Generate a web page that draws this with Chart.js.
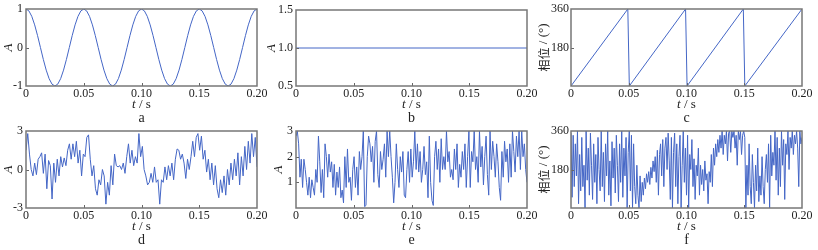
<!DOCTYPE html>
<html>
<head>
<meta charset="utf-8">
<script src="https://cdn.jsdelivr.net/npm/chart.js@4"></script>
<style>
  body { margin: 0; background: #fff; }
  #wrap { position: relative; width: 818px; height: 250px; overflow: hidden; }
  canvas { position: absolute; }
</style>
</head>
<body>
<div id="wrap">
  <canvas id="pa" width="272" height="125" style="left:0;top:0"></canvas>
  <canvas id="pb" width="280" height="125" style="left:262px;top:0"></canvas>
  <canvas id="pc" width="280" height="125" style="left:538px;top:0"></canvas>
  <canvas id="pd" width="272" height="125" style="left:0;top:125px"></canvas>
  <canvas id="pe" width="280" height="125" style="left:262px;top:125px"></canvas>
  <canvas id="pf" width="280" height="125" style="left:538px;top:125px"></canvas>
</div>
<script>
// six panels: amplitude / phase of a clean signal (a-c) and a noisy one (d-f)
const timeTicks = [0, 0.05, 0.1, 0.15, 0.2];
const tMax = 0.2;

// a: clean amplitude, sampled every 0.0025 s
const ampA = [
  1, 0.951, 0.809, 0.588, 0.309, 0, -0.309, -0.588, -0.809, -0.951, -1, -0.951, -0.809, -0.588, -0.309, 0, 0.309, 0.588, 0.809, 0.951,
  1, 0.951, 0.809, 0.588, 0.309, 0, -0.309, -0.588, -0.809, -0.951, -1, -0.951, -0.809, -0.588, -0.309, 0, 0.309, 0.588, 0.809, 0.951,
  1, 0.951, 0.809, 0.588, 0.309, 0, -0.309, -0.588, -0.809, -0.951, -1, -0.951, -0.809, -0.588, -0.309, 0, 0.309, 0.588, 0.809, 0.951,
  1, 0.951, 0.809, 0.588, 0.309, 0, -0.309, -0.588, -0.809, -0.951, -1, -0.951, -0.809, -0.588, -0.309, 0, 0.309, 0.588, 0.809, 0.951,
  1,
];

// b: envelope
const timeB = [0, 0.2];
const ampB = [1, 1];

// c: phase sawtooth
const timeC = [0, 0.0492, 0.0505, 0.0992, 0.1005, 0.1492, 0.1505, 0.2];
const phaseC = [0, 360, 0, 360, 0, 360, 0, 360];

// d: noisy amplitude
const ampD = [
  1.5, 2.8, 1.2, 0, -0.5, 0.5, -0.4, 0.8, 1.0, 1.3, -0.3, 1.2, -1.5, 0.7, 0.3, -2.3, 0.5, -1, 0.8, -0.5,
  1.0, 0.2, 0.9, 0.3, 1.5, 2.0, 0.8, 2.0, 1.0, 2.2, 0.5, 1.5, -0.5, 1.2, 1.0, 2.5, 2.7, 0.8, -0.5, 0.3,
  -1.5, -2.0, -0.8, -1.2, 0, -0.5, -2.7, -1.0, -2.0, 0.3, -1.2, 1.2, 0.3, 0.2, 0.3, 0.0, 0.5, -0.3, 1.0, 2.0,
  0.5, 1.5, 0.3, 1.0, 0.5, 2.8, 1.0, 1.8, 0.0, -0.5, -1.2, -1.0, -0.3, -1.0, 0.2, -1.0, -0.8, -2.7, -0.8, -1.0,
  0.2, -0.8, 0.3, -0.5, 0.5, -0.8, 0.8, 1.6, 1.5, 0.8, 1.2, 0.5, -0.7, 0.8, 0.0, 1.0, 2.2, 1.0, 2.5, 2.8,
  1.5, 2.6, 0.8, 1.5, -0.2, 0.8, -0.8, 0.5, -1.2, 0.3, -1.5, -2.2, -0.8, -1.8, -0.5, -2.0, 0.0, -1.2, 0.5, -0.8,
  0.8, -0.5, 1.3, -1.2, 1.0, -0.5, 1.8, 0.0, 2.2, 0.5, 2.8, 1.0, 2.5, 0.2,
];

// e: noisy envelope
const ampE = [
  2.8, 3.0, 2.5, 1.2, 1.9, 0.8, 1.9, 1.5, 1.0, 0.5, 1.2, 0.4, 1.1, 0.8, 0.5, 1.5, 1.0, 2.8, 1.8, 0.6,
  1.5, 0.4, 2.5, 2.0, 1.2, 2.1, 1.4, 1.8, 0.8, 1.7, 0.5, 1.4, 0.8, 1.6, 0.4, 0.7, 0.2, 2.0, 0.8, 2.3,
  1.0, 1.2, 0.3, 1.5, 2.0, 0.8, 1.6, 0.5, 2.2, 1.5, 2.0, 3.0, 0.05, 0.1, 2.0, 2.8, 2.5, 1.8, 2.4, 1.0,
  2.6, 3.0, 1.3, 0.8, 2.2, 1.5, 1.9, 2.5, 1.2, 3.0, 2.0, 3.0, 2.0, 1.2, 0.2, 1.0, 2.5, 1.5, 0.8, 2.0,
  1.4, 2.2, 0.5, 0.4, 1.5, 2.2, 1.0, 2.3, 1.2, 1.8, 3.0, 1.5, 2.5, 1.4, 2.2, 1.0, 1.5, 2.4, 1.3, 1.8,
  0.4, 2.8, 1.0, 0.3, 0.1, 2.0, 2.6, 1.5, 2.3, 1.0, 2.7, 1.5, 2.0, 1.5, 3.0, 1.8, 2.2, 1.2, 1.5, 1.1,
  2.3, 1.5, 2.5, 0.8, 1.7, 1.2, 2.2, 1.5, 2.5, 0.8, 2.0, 3.0, 0.8, 2.2, 1.8, 3.0, 1.5, 2.0, 1.0, 3.0,
  1.6, 2.4, 0.9, 2.0, 2.8, 1.3, 0.5, 3.0, 1.5, 2.6, 2.0, 1.2, 2.5, 1.8, 0.8, 0.3, 2.2, 1.2, 2.6, 1.8,
  2.3, 1.0, 2.5, 1.2, 3.0, 2.2, 1.4, 2.8, 2.0, 3.0, 1.5, 3.0, 2.0, 2.5, 1.5, 1.0,
];

// f: noisy phase
const phaseF = [
  350, 50, 340, 100, 300, 150, 360, 20, 250, 80, 330, 100, 200, 0, 360, 130, 280, 60, 350, 200,
  40, 300, 120, 250, 20, 330, 180, 80, 360, 100, 260, 30, 300, 150, 360, 60, 220, 10, 310, 140,
  280, 70, 340, 200, 30, 300, 120, 360, 50, 280, 150, 330, 0, 260, 360, 80, 340, 0, 300, 100,
  20, 200, 60, 0, 150, 30, 120, 60, 140, 90, 160, 120, 170, 110, 190, 140, 220, 170, 240, 120,
  270, 60, 250, 300, 150, 320, 100, 280, 330, 180, 350, 220, 40, 330, 0, 260, 350, 100, 300, 20,
  240, 340, 0, 200, 360, 120, 280, 60, 340, 0, 250, 180, 320, 100, 230, 40, 200, 150, 280, 60,
  200, 110, 180, 80, 220, 130, 160, 20, 170, 120, 250, 100, 280, 200, 300, 240, 320, 260, 340, 280,
  360, 250, 340, 300, 360, 220, 350, 360, 260, 360, 330, 360, 280, 340, 200, 360, 320, 360, 250, 340,
  360, 330, 0, 200, 60, 300, 100, 20, 250, 120, 0, 200, 80, 280, 30, 150, 60, 240, 100, 20,
  180, 250, 120, 300, 0, 340, 150, 260, 200, 360, 130, 330, 60, 280, 100, 360, 200, 320, 40, 300,
  250, 360, 180, 330, 280, 360, 250, 340, 300, 360, 280, 100, 360, 300, 330,
];

const LINE = '#4466c6';
const SERIF = '"Liberation Serif", "Times New Roman", serif';
const CJK = '"Noto Sans CJK SC", sans-serif';

function uniform(vals) {
  const dt = tMax / (vals.length - 1);
  return vals.map((v, i) => ({ x: i * dt, y: v }));
}
function paired(ts, vals) {
  return ts.map((t, i) => ({ x: t, y: vals[i] }));
}

function drawRun(ctx, parts, x, y) {
  // parts drawn one after another, centred on x
  let w = 0;
  parts.forEach(p => { ctx.font = p.font; w += ctx.measureText(p.text).width; });
  let cx = x - w / 2;
  parts.forEach(p => {
    ctx.font = p.font;
    ctx.fillText(p.text, cx, y);
    cx += ctx.measureText(p.text).width;
  });
}

const framePlugin = {
  id: 'frame',
  afterDraw(chart, args, o) {
    const { ctx, chartArea: a, scales: { x, y } } = chart;
    ctx.save();
    ctx.strokeStyle = '#666';
    ctx.lineWidth = 1;
    ctx.beginPath();
    timeTicks.forEach(v => {
      if (v <= x.min || v >= x.max) return;
      const px = Math.round(x.getPixelForValue(v)) + 0.5;
      ctx.moveTo(px, a.bottom);
      ctx.lineTo(px, a.bottom - 3);
    });
    o.yTicks.forEach(v => {
      if (v <= y.min || v >= y.max) return;
      const py = Math.round(y.getPixelForValue(v)) + 0.5;
      ctx.moveTo(a.left, py);
      ctx.lineTo(a.left + 3, py);
    });
    ctx.stroke();

    ctx.strokeStyle = '#777';
    ctx.lineWidth = 1.5;
    ctx.strokeRect(a.left, a.top, a.right - a.left, a.bottom - a.top);

    ctx.fillStyle = '#222';
    ctx.textBaseline = 'middle';
    ctx.textAlign = 'left';
    const mid = (a.left + a.right) / 2;
    drawRun(ctx, [
      { text: 't', font: 'italic 13px ' + SERIF },
      { text: ' / s', font: '13px ' + SERIF },
    ], mid, a.bottom + 19);
    drawRun(ctx, [{ text: o.letter, font: '14px ' + SERIF }], mid, a.bottom + 32);

    ctx.translate(o.yTitleX, (a.top + a.bottom) / 2);
    ctx.rotate(-Math.PI / 2);
    if (o.phase) {
      drawRun(ctx, [
        { text: '相位', font: '12px ' + CJK },
        { text: ' / (°)', font: '13px ' + SERIF },
      ], 0, 0);
    } else {
      drawRun(ctx, [{ text: 'A', font: 'italic 13px ' + SERIF }], 0, 0);
    }
    ctx.restore();
  },
};

function makePanel(id, points, p) {
  const ctx = document.getElementById(id).getContext('2d');
  return new Chart(ctx, {
    type: 'line',
    data: {
      datasets: [{
        data: points,
        borderColor: LINE,
        borderWidth: 1,
        pointRadius: 0,
        tension: 0,
      }],
    },
    plugins: [framePlugin],
    options: {
      responsive: false,
      animation: false,
      events: [],
      layout: { padding: { top: p.top, right: p.right, bottom: 0, left: 0 } },
      plugins: {
        legend: { display: false },
        tooltip: { enabled: false },
        frame: { yTicks: p.yTicks, letter: p.letter, yTitleX: p.yTitleX, phase: p.phase },
      },
      scales: {
        x: {
          type: 'linear',
          min: 0,
          max: tMax,
          grid: { display: false, drawTicks: false },
          border: { display: false },
          afterBuildTicks: s => { s.ticks = timeTicks.map(v => ({ value: v })); },
          ticks: {
            autoSkip: false,
            maxRotation: 0,
            padding: 2,
            color: '#222',
            font: { family: SERIF, size: 12, lineHeight: 1 },
            callback: v => (v === 0 ? '0' : v.toFixed(2)),
          },
          afterFit: s => { s.height = p.xHeight; s.paddingLeft = 0; s.paddingRight = 0; },
        },
        y: {
          min: p.yMin,
          max: p.yMax,
          grid: { display: false, drawTicks: false },
          border: { display: false },
          afterBuildTicks: s => { s.ticks = p.yTicks.map(v => ({ value: v })); },
          ticks: {
            autoSkip: false,
            padding: p.yPad,
            color: '#222',
            font: { family: SERIF, size: 12, lineHeight: 1 },
            callback: p.yLabel,
          },
          afterFit: s => { s.width = p.yWidth; s.paddingTop = 0; s.paddingBottom = 0; },
        },
      },
    },
  });
}

const intLabel = v => String(v);
const oneDec = v => v.toFixed(1);
const phaseLabel = v => (v === 0 ? '' : String(v));
const topRow = { top: 9, xHeight: 39 };
const botRow = { top: 6, xHeight: 42 };

makePanel('pa', uniform(ampA), { ...topRow, right: 15, yWidth: 26, yPad: 3, yMin: -1, yMax: 1,
  yTicks: [-1, 0, 1], yLabel: intLabel, letter: 'a', yTitleX: 9 });
makePanel('pb', paired(timeB, ampB), { ...topRow, top: 10, right: 15, yWidth: 34, yPad: 3, yMin: 0.5, yMax: 1.5,
  yTicks: [0.5, 1, 1.5], yLabel: oneDec, letter: 'b', yTitleX: 10 });
makePanel('pc', paired(timeC, phaseC), { ...topRow, right: 16, yWidth: 33, yPad: 2, yMin: 0, yMax: 360,
  yTicks: [0, 180, 360], yLabel: phaseLabel, letter: 'c', yTitleX: 6, phase: true });
makePanel('pd', uniform(ampD), { ...botRow, right: 15, yWidth: 26, yPad: 3, yMin: -3, yMax: 3,
  yTicks: [-3, 0, 3], yLabel: intLabel, letter: 'd', yTitleX: 9 });
makePanel('pe', uniform(ampE), { ...botRow, right: 15, yWidth: 34, yPad: 3, yMin: 0, yMax: 3,
  yTicks: [0, 1, 2, 3], yLabel: phaseLabel, letter: 'e', yTitleX: 17 });
makePanel('pf', uniform(phaseF), { ...botRow, right: 16, yWidth: 33, yPad: 2, yMin: 0, yMax: 360,
  yTicks: [0, 180, 360], yLabel: phaseLabel, letter: 'f', yTitleX: 6, phase: true });
</script>
</body>
</html>
